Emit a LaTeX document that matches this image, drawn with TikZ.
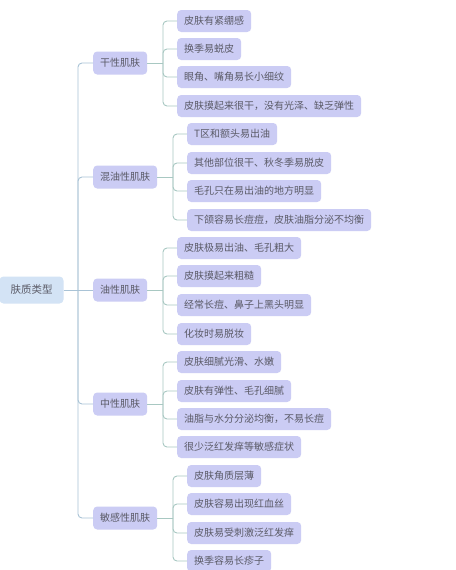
\documentclass[tikz,border=0pt]{standalone}
\usepackage{fontspec}
\setmainfont{Noto Sans CJK SC}
\definecolor{rootfill}{HTML}{D3E3F5}
\definecolor{subfill}{HTML}{CBCCF4}
\definecolor{txt}{HTML}{5A5A66}
\definecolor{trunkline}{HTML}{A9C3D6}
\definecolor{leafline}{HTML}{A8C8C2}
\tikzset{
  rootbox/.style={fill=rootfill, rounded corners=4pt, text=txt, font=\fontsize{10.5pt}{12pt}\selectfont, minimum width=64pt, minimum height=27pt, inner sep=0pt},
  branchbox/.style={fill=subfill, rounded corners=4pt, text=txt, font=\fontsize{10pt}{12pt}\selectfont, minimum height=23pt, inner xsep=7pt, inner ysep=0pt, anchor=west},
  leafbox/.style={fill=subfill, rounded corners=4pt, text=txt, font=\fontsize{10pt}{12pt}\selectfont, minimum height=22pt, inner xsep=7pt, inner ysep=0pt, anchor=west},
  trunk/.style={draw=trunkline, line width=0.9pt, rounded corners=4pt},
  leafconn/.style={draw=leafline, line width=0.9pt, rounded corners=4pt},
}
\begin{document}
\begin{tikzpicture}[x=1pt,y=1pt]
\useasboundingbox (0,0) rectangle (455,-570);
\fill[white] (0,0) rectangle (455,-570);

\node[rootbox] (root) at (31.5,-290) {肤质类型};
\coordinate (j) at (78,-290);

% branches
\node[branchbox] (b1) at (93,-63) {干性肌肤};
\node[branchbox] (b2) at (93,-177) {混油性肌肤};
\node[branchbox] (b3) at (93,-290) {油性肌肤};
\node[branchbox] (b4) at (93,-404) {中性肌肤};
\node[branchbox] (b5) at (93,-518) {敏感性肌肤};

\draw[trunk] (root.east) -- (b3.west);
\draw[trunk] (j) |- (b1.west);
\draw[trunk] (j) |- (b2.west);
\draw[trunk] (j) |- (b4.west);
\draw[trunk] (j) |- (b5.west);

% leaves of b1
\coordinate (k1) at (163,-63);
\node[leafbox] (l11) at (177,-21) {皮肤有紧绷感};
\node[leafbox] (l12) at (177,-49) {换季易蜕皮};
\node[leafbox] (l13) at (177,-77) {眼角、嘴角易长小细纹};
\node[leafbox] (l14) at (177,-106) {皮肤摸起来很干，没有光泽、缺乏弹性};
\draw[leafconn] (b1.east) -- (k1);
\foreach \n in {l11,l12,l13,l14} \draw[leafconn] (k1) |- (\n.west);

% leaves of b2
\coordinate (k2) at (173,-177);
\node[leafbox] (l21) at (187,-134) {T区和额头易出油};
\node[leafbox] (l22) at (187,-163) {其他部位很干、秋冬季易脱皮};
\node[leafbox] (l23) at (187,-191) {毛孔只在易出油的地方明显};
\node[leafbox] (l24) at (187,-220) {下颌容易长痘痘，皮肤油脂分泌不均衡};
\draw[leafconn] (b2.east) -- (k2);
\foreach \n in {l21,l22,l23,l24} \draw[leafconn] (k2) |- (\n.west);

% leaves of b3
\coordinate (k3) at (163,-290);
\node[leafbox] (l31) at (177,-248) {皮肤极易出油、毛孔粗大};
\node[leafbox] (l32) at (177,-276) {皮肤摸起来粗糙};
\node[leafbox] (l33) at (177,-305) {经常长痘、鼻子上黑头明显};
\node[leafbox] (l34) at (177,-334) {化妆时易脱妆};
\draw[leafconn] (b3.east) -- (k3);
\foreach \n in {l31,l32,l33,l34} \draw[leafconn] (k3) |- (\n.west);

% leaves of b4
\coordinate (k4) at (163,-404);
\node[leafbox] (l41) at (177,-362) {皮肤细腻光滑、水嫩};
\node[leafbox] (l42) at (177,-391) {皮肤有弹性、毛孔细腻};
\node[leafbox] (l43) at (177,-419) {油脂与水分分泌均衡，不易长痘};
\node[leafbox] (l44) at (177,-447) {很少泛红发痒等敏感症状};
\draw[leafconn] (b4.east) -- (k4);
\foreach \n in {l41,l42,l43,l44} \draw[leafconn] (k4) |- (\n.west);

% leaves of b5
\coordinate (k5) at (173,-518);
\node[leafbox] (l51) at (187,-476) {皮肤角质层薄};
\node[leafbox] (l52) at (187,-504) {皮肤容易出现红血丝};
\node[leafbox] (l53) at (187,-533) {皮肤易受刺激泛红发痒};
\node[leafbox] (l54) at (187,-561) {换季容易长疹子};
\draw[leafconn] (b5.east) -- (k5);
\foreach \n in {l51,l52,l53,l54} \draw[leafconn] (k5) |- (\n.west);
\end{tikzpicture}
\end{document}
